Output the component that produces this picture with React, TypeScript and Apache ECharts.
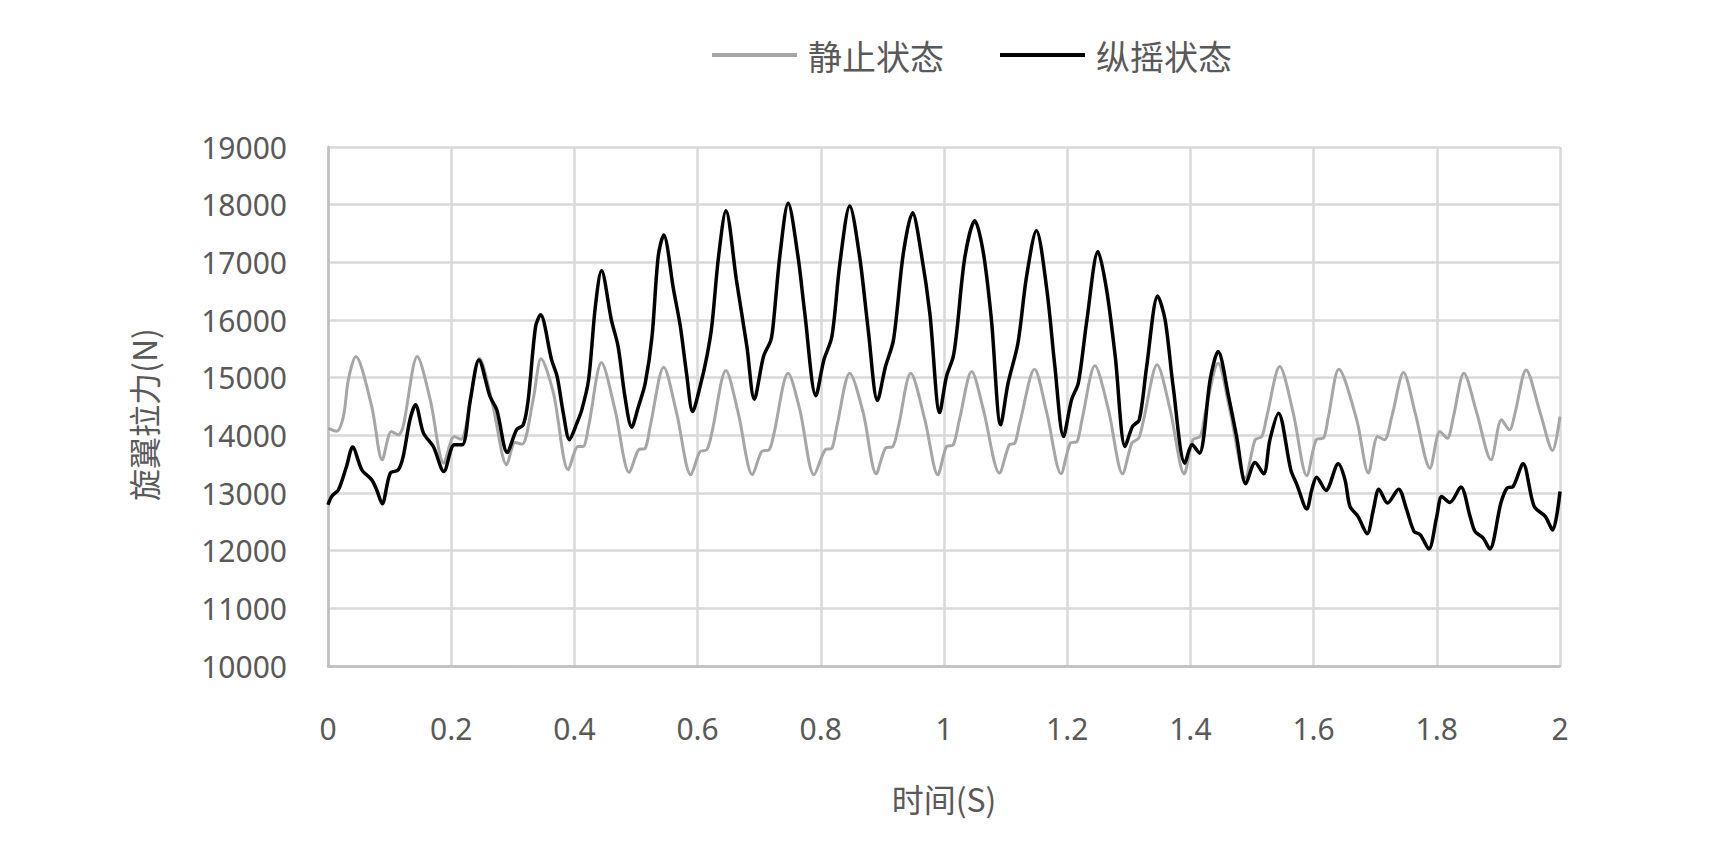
import React, { useEffect, useRef } from "react";
import * as echarts from "echarts";

const legendNames = ["静止状态", "纵摇状态"];
const xAxisName = "时间(S)";
const yAxisName = "旋翼拉力(N)";

const staticTime = [0, 0.014, 0.025, 0.033, 0.045, 0.071, 0.088, 0.103, 0.114, 0.122, 0.145, 0.166, 0.188, 0.205, 0.216, 0.225, 0.246, 0.268, 0.29, 0.304, 0.315, 0.333, 0.346, 0.366, 0.39, 0.406, 0.414, 0.423, 0.444, 0.466, 0.489, 0.504, 0.515, 0.523, 0.545, 0.566, 0.589, 0.604, 0.615, 0.623, 0.646, 0.666, 0.689, 0.704, 0.716, 0.723, 0.747, 0.766, 0.789, 0.807, 0.818, 0.826, 0.847, 0.869, 0.89, 0.905, 0.917, 0.926, 0.946, 0.969, 0.99, 1.004, 1.015, 1.025, 1.045, 1.064, 1.09, 1.106, 1.115, 1.123, 1.147, 1.167, 1.19, 1.205, 1.216, 1.224, 1.245, 1.267, 1.29, 1.305, 1.316, 1.324, 1.346, 1.367, 1.39, 1.404, 1.416, 1.424, 1.445, 1.464, 1.489, 1.505, 1.516, 1.524, 1.545, 1.567, 1.589, 1.605, 1.616, 1.624, 1.641, 1.67, 1.689, 1.704, 1.715, 1.727, 1.746, 1.765, 1.789, 1.805, 1.817, 1.827, 1.844, 1.865, 1.888, 1.905, 1.918, 1.927, 1.945, 1.968, 1.988, 2.0];
const staticForce = [14125, 14070, 14326, 14962, 15366, 14499, 13575, 14066, 14009, 14153, 15366, 14615, 13518, 13980, 13930, 14211, 15338, 14499, 13489, 13874, 13845, 14615, 15326, 14731, 13402, 13806, 13806, 14153, 15262, 14442, 13356, 13749, 13777, 14153, 15181, 14385, 13316, 13719, 13749, 14038, 15123, 14385, 13316, 13719, 13749, 13980, 15078, 14442, 13316, 13749, 13777, 14153, 15078, 14385, 13334, 13777, 13806, 14153, 15078, 14269, 13316, 13806, 13836, 14269, 15107, 14442, 13345, 13836, 13864, 14211, 15147, 14385, 13334, 13864, 13893, 14269, 15205, 14442, 13334, 13864, 13951, 14269, 15222, 14450, 13334, 13922, 13980, 14385, 15250, 14442, 13258, 13922, 13980, 14326, 15193, 14385, 13299, 13933, 13951, 14326, 15147, 14269, 13345, 13980, 13922, 14326, 15089, 14385, 13431, 14066, 13951, 14326, 15078, 14385, 13576, 14269, 14096, 14385, 15135, 14385, 13738, 14326];

const pitchTime = [0, 0.006, 0.017, 0.03, 0.04, 0.055, 0.071, 0.079, 0.088, 0.101, 0.114, 0.122, 0.133, 0.142, 0.155, 0.171, 0.188, 0.205, 0.218, 0.231, 0.245, 0.263, 0.274, 0.291, 0.306, 0.317, 0.325, 0.337, 0.345, 0.363, 0.372, 0.382, 0.392, 0.404, 0.412, 0.423, 0.434, 0.444, 0.46, 0.471, 0.482, 0.493, 0.504, 0.515, 0.526, 0.536, 0.545, 0.561, 0.572, 0.582, 0.592, 0.604, 0.615, 0.623, 0.634, 0.646, 0.663, 0.68, 0.692, 0.707, 0.719, 0.723, 0.734, 0.747, 0.763, 0.774, 0.792, 0.805, 0.818, 0.831, 0.847, 0.863, 0.877, 0.892, 0.905, 0.918, 0.934, 0.949, 0.963, 0.977, 0.993, 1.004, 1.015, 1.021, 1.034, 1.05, 1.064, 1.077, 1.092, 1.104, 1.12, 1.134, 1.15, 1.167, 1.18, 1.194, 1.207, 1.218, 1.232, 1.25, 1.264, 1.278, 1.294, 1.306, 1.317, 1.329, 1.347, 1.359, 1.372, 1.391, 1.403, 1.415, 1.421, 1.432, 1.445, 1.462, 1.475, 1.49, 1.505, 1.519, 1.529, 1.543, 1.563, 1.573, 1.589, 1.597, 1.605, 1.62, 1.64, 1.651, 1.659, 1.672, 1.687, 1.697, 1.706, 1.72, 1.738, 1.751, 1.763, 1.773, 1.787, 1.8, 1.808, 1.821, 1.839, 1.854, 1.862, 1.875, 1.886, 1.904, 1.914, 1.924, 1.94, 1.958, 1.976, 1.988, 2.0];
const pitchForce = [12796, 12941, 13056, 13460, 13796, 13401, 13228, 13056, 12813, 13344, 13401, 13632, 14269, 14529, 14038, 13806, 13373, 13836, 13836, 14615, 15308, 14673, 14442, 13702, 14096, 14182, 14615, 15886, 16089, 15308, 15020, 14385, 13925, 14211, 14442, 14962, 16232, 16857, 16002, 15539, 14673, 14141, 14500, 14904, 15713, 17099, 17475, 16522, 15886, 15078, 14413, 14846, 15366, 15886, 17099, 17896, 16695, 15539, 14627, 15366, 15655, 15944, 17157, 18024, 17099, 16117, 14685, 15308, 15713, 16984, 17978, 17099, 15828, 14604, 15193, 15655, 17157, 17861, 17157, 16117, 14396, 15020, 15366, 15828, 17099, 17723, 17157, 16002, 14182, 14904, 15597, 16753, 17549, 16522, 15193, 13980, 14615, 14904, 16002, 17186, 16522, 15366, 13806, 14153, 14269, 15193, 16418, 16000, 14846, 13518, 13836, 13691, 13922, 14962, 15453, 14673, 13980, 13159, 13529, 13334, 13922, 14385, 13402, 13142, 12721, 13056, 13275, 13045, 13506, 13228, 12768, 12595, 12295, 12710, 13067, 12826, 13067, 12710, 12335, 12278, 12030, 12595, 12941, 12836, 13102, 12595, 12335, 12220, 12030, 12826, 13085, 13114, 13506, 12768, 12595, 12357, 13027];

const zip = (xs: number[], ys: number[]) => xs.map((x, i) => [x, ys[i]]);

export default function App() {
  const ref = useRef<HTMLDivElement>(null);
  useEffect(() => {
    if (!ref.current) return;
    const chart = echarts.init(ref.current, null, { renderer: "svg" });
    const labelColor = "#595959";
    const gridColor = "#d9d9d9";
    chart.setOption({
      animation: false,
      backgroundColor: "#ffffff",
      legend: {
        left: 712,
        top: 35,
        padding: 0,
        itemGap: 56,
        itemWidth: 85,
        itemHeight: 4,
        icon: "rect",
        data: legendNames,
        textStyle: {
          fontSize: 34,
          lineHeight: 40,
          color: labelColor,
          fontFamily: "Noto Sans CJK SC",
          padding: [0, 0, 0, 6],
        },
      },
      grid: { left: 328, right: 172, top: 147, bottom: 190, containLabel: false },
      xAxis: {
        type: "value",
        min: 0,
        max: 2,
        interval: 0.2,
        name: xAxisName,
        nameLocation: "middle",
        nameGap: 116,
        nameTextStyle: { fontSize: 32, color: labelColor, fontFamily: "Noto Sans CJK SC" },
        axisLine: { show: true, onZero: false, lineStyle: { color: "#bfbfbf", width: 2.5 } },
        axisTick: { show: false },
        axisLabel: {
          margin: 47,
          fontSize: 30,
          color: labelColor,
          fontFamily: "Noto Sans",
          formatter: (v: number) => String(Number(v.toFixed(1))),
        },
        splitLine: { show: true, lineStyle: { color: gridColor, width: 2.5 } },
      },
      yAxis: {
        type: "value",
        min: 10000,
        max: 19000,
        interval: 1000,
        name: yAxisName,
        nameLocation: "middle",
        nameGap: 169,
        nameRotate: 90,
        nameTextStyle: {
          fontSize: 32,
          color: labelColor,
          fontFamily: "Noto Sans CJK SC",
          padding: [0, 16, 0, 0],
        },
        axisLine: { show: true, lineStyle: { color: "#bfbfbf", width: 2.5 } },
        axisTick: { show: false },
        axisLabel: {
          margin: 41,
          fontSize: 30,
          color: labelColor,
          fontFamily: "Noto Sans",
          formatter: (v: number) => String(Math.round(v)),
        },
        splitLine: { show: true, lineStyle: { color: gridColor, width: 2.5 } },
      },
      series: [
        {
          name: legendNames[0],
          type: "line",
          data: zip(staticTime, staticForce),
          symbol: "none",
          smooth: 0.3,
          itemStyle: { color: "#a6a6a6" },
          lineStyle: { color: "#a6a6a6", width: 3 },
        },
        {
          name: legendNames[1],
          type: "line",
          data: zip(pitchTime, pitchForce),
          symbol: "none",
          smooth: 0.3,
          itemStyle: { color: "#000000" },
          lineStyle: { color: "#000000", width: 3.5 },
        },
      ],
    });
    return () => chart.dispose();
  }, []);
  return (
    <div
      ref={ref}
      style={{ position: "absolute", left: 0, top: 0, width: 1732, height: 856, background: "#fff" }}
    />
  );
}
